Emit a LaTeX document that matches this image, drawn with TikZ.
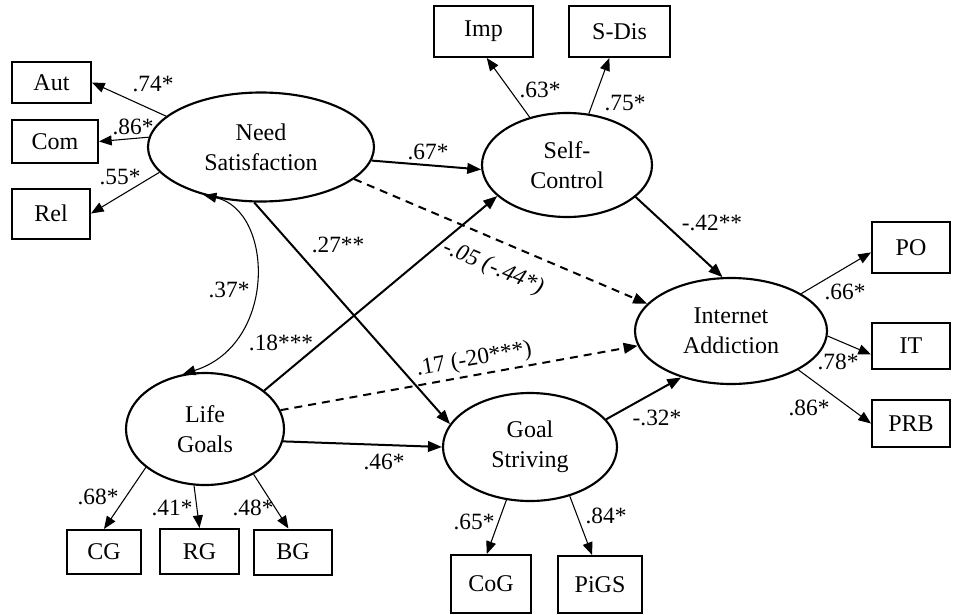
\documentclass[tikz,border=0pt]{standalone}
\usepackage{fontspec}
\setmainfont{Liberation Serif}
\usetikzlibrary{arrows.meta,shapes.geometric}

\tikzset{
  lat/.style n args={2}{draw, ellipse, line width=1.6pt, inner sep=0pt, align=center,
    minimum width=#1*0.75pt, minimum height=#2*0.75pt, font=\fontsize{18}{22.5}\selectfont},
  obs/.style n args={2}{draw, rectangle, line width=1.5pt, inner sep=0pt,
    minimum width=#1*0.75pt, minimum height=#2*0.75pt, font=\fontsize{18}{22}\selectfont},
  effect/.style={line width=1.5pt, -{Triangle[length=10.5pt,width=8pt]}},
  nseffect/.style={effect, dash pattern=on 6pt off 4.5pt},
  load/.style={line width=0.8pt, -{Triangle[length=9.5pt,width=7.5pt]}},
  coef/.style={inner sep=0pt, font=\fontsize{17.5}{21}\selectfont},
}

\begin{document}
\begin{tikzpicture}[x=0.75pt, y=-0.75pt]
    \useasboundingbox (0,0) rectangle (956,614);

    % latent variables
    \node[lat={226}{109}] (ns) at (261,147) {Need\\Satisfaction};
    \node[lat={170}{104}] (sc) at (567,165) {Self-\\Control};
    \node[lat={192}{106}] (ia) at (731,331) {Internet\\Addiction};
    \node[lat={158}{112}] (lg) at (205,429) {Life\\Goals};
    \node[lat={174}{108}] (gs) at (530,447) {Goal\\Striving};

    % indicators
    \node[obs={79}{41}] (aut) at (51.5,82.5) {Aut};
    \node[obs={86}{43}] (com) at (55,141.5) {Com};
    \node[obs={78}{50}] (rel) at (51,213.5) {Rel};
    \node[obs={99}{51}] (imp) at (483.5,31.5) {Imp};
    \node[obs={101}{51}] (sdis) at (619.5,31.5) {S-Dis};
    \node[obs={78}{51}] (po) at (911,247.5) {PO};
    \node[obs={78}{46}] (it) at (911,346) {IT};
    \node[obs={78}{47}] (prb) at (911,423.5) {PRB};
    \node[obs={74}{44}] (cg) at (104,552) {CG};
    \node[obs={79}{45}] (rg) at (199.5,551.5) {RG};
    \node[obs={78}{45}] (bg) at (293,552) {BG};
    \node[obs={80}{58}] (cog) at (491,584) {CoG};
    \node[obs={84}{57}] (pigs) at (600,584.5) {PiGS};

    \draw[load] (ns.162) -- (aut.east);
    \draw[load] (ns.175) -- (com.east);
    \draw[load] (ns.194) -- (rel.east);
    \draw[load] (sc.128) -- (imp.-83);
    \draw[load] (sc.67) -- (sdis.-111);
    \draw[load] (ia.28) -- (po.187);
    \draw[load] (ia.-3) -- (it.192);
    \draw[load] (ia.-30) -- (prb.west);
    \draw[load] (lg.213) -- (cg.north);
    \draw[load] (lg.259) -- (rg.north);
    \draw[load] (lg.-43) -- (bg.101);
    \draw[load] (gs.246) -- (cog.98);
    \draw[load] (gs.-51) -- (pigs.105);

    % structural paths
    \draw[effect] (ns.-7) -- (sc.183);
    \draw[effect] (ns.263) -- (gs.164);
    \draw[nseffect] (ns.-19) -- (ia.162);
    \draw[effect] (lg.33) -- (sc.204);
    \draw[nseffect] (lg.14) -- (ia.189);
    \draw[effect] (lg.-9) -- (gs.west);
    \draw[effect] (sc.-25) -- (ia.99);
    \draw[effect] (gs.20) -- (ia.223);
    \draw[load, {Triangle[length=9.5pt,width=7.5pt]}-{Triangle[length=9.5pt,width=7.5pt]}]
      (ns.220) .. controls +(70,15) and +(95,-30) .. (lg.112);

    \node[coef] (c74) at (153,84) {.74*};
    \node[coef] (c86) at (133,127) {.86*};
    \node[coef] (c55) at (120,177) {.55*};
    \node[coef] (c37) at (229,290) {.37*};
    \node[coef] (c67) at (428,152) {.67*};
    \node[coef] (c63) at (540,90) {.63*};
    \node[coef] (c75) at (625,103) {.75*};
    \node[coef] (c27) at (338,245) {.27**};
    \node[coef, rotate=-23] (c05) at (493,268) {\itshape -.05 (-.44*)};
    \node[coef] (c42) at (712,223) {-.42**};
    \node[coef] (c18) at (281,343) {.18***};
    \node[coef, rotate=10] (c17) at (474,360) {.17 (-20***)};
    \node[coef] (c46) at (384,462) {.46*};
    \node[coef] (c32) at (657,418) {-.32*};
    \node[coef] (c66) at (845,292) {.66*};
    \node[coef] (c78) at (838,362) {.78*};
    \node[coef] (c86b) at (809,408) {.86*};
    \node[coef] (c68) at (98,497) {.68*};
    \node[coef] (c41) at (172,508) {.41*};
    \node[coef] (c48) at (253,508) {.48*};
    \node[coef] (c65) at (474,522) {.65*};
    \node[coef] (c84) at (606,516) {.84*};
\end{tikzpicture}
\end{document}
